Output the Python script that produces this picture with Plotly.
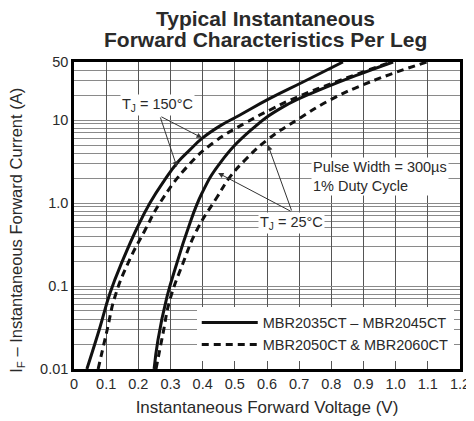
import plotly.graph_objects as go
import numpy as np

# ---- data ----
# MBR2035CT - MBR2045CT (solid), TJ = 150 C
v_a150 = [0.040, 0.081, 0.112, 0.152, 0.196, 0.236, 0.280, 0.323, 0.361, 0.398, 0.454, 0.516, 0.609, 0.712, 0.836]
i_a150 = [0.01, 0.0321, 0.0824, 0.206, 0.50, 1.0, 1.85, 3.12, 4.4, 6.0, 8.5, 11.5, 18.2, 28.7, 50.0]
# MBR2050CT & MBR2060CT (dashed), TJ = 150 C
v_b150 = [0.075, 0.103, 0.127, 0.168, 0.221, 0.267, 0.351, 0.432, 0.538, 0.609, 0.687, 0.889, 0.988]
i_b150 = [0.01, 0.0295, 0.0738, 0.189, 0.473, 1.0, 2.72, 5.28, 9.46, 13.2, 18.4, 36.8, 50.0]
# MBR2035CT - MBR2045CT (solid), TJ = 25 C
v_a25 = [0.249, 0.261, 0.289, 0.320, 0.351, 0.398, 0.454, 0.547, 0.650, 0.786, 0.889, 0.992]
i_a25 = [0.01, 0.0224, 0.0738, 0.189, 0.448, 1.32, 3.03, 7.38, 14.4, 25.0, 35.8, 50.0]
# MBR2050CT & MBR2060CT (dashed), TJ = 25 C
v_b25 = [0.255, 0.277, 0.298, 0.339, 0.382, 0.445, 0.485, 0.538, 0.600, 0.703, 0.796, 0.920, 1.097]
i_b25 = [0.01, 0.0272, 0.0679, 0.189, 0.473, 1.18, 2.06, 3.48, 5.74, 10.6, 17.4, 28.7, 50.0]

x_ticks = [0, 0.1, 0.2, 0.3, 0.4, 0.5, 0.6, 0.7, 0.8, 0.9, 1.0, 1.1, 1.2]
x_ticktext = ["0", "0.1", "0.2", "0.3", "0.4", "0.5", "0.6", "0.7", "0.8", "0.9", "1.0", "1.1", "1.2"]
y_ticks = [0.01, 0.1, 1.0, 10, 50]
y_ticktext = ["0.01", "0.1", "1.0", "10", "50"]
y_minor = [m * d for d in [0.01, 0.1, 1.0] for m in range(2, 10)] + [20, 30, 40]

label_a = "MBR2035CT – MBR2045CT"
label_b = "MBR2050CT & MBR2060CT"
title_lines = ["Typical Instantaneous", "Forward Characteristics Per Leg"]
x_title = "Instantaneous Forward Voltage (V)"
y_title = "I<sub>F</sub> – Instantaneous Forward Current (A)"

FONT = "Arial, Liberation Sans, sans-serif"
TXT = "#2a2a2a"
LINE = "#111111"

fig = go.Figure()
solid = dict(color=LINE, width=3, shape="spline", smoothing=1.3)
dashed = dict(color=LINE, width=3, dash="7px,5px", shape="spline", smoothing=1.3)
fig.add_trace(go.Scatter(x=v_a150, y=i_a150, mode="lines", line=solid, name=label_a, showlegend=True))
fig.add_trace(go.Scatter(x=v_b150, y=i_b150, mode="lines", line=dashed, name=label_b, showlegend=True))
fig.add_trace(go.Scatter(x=v_a25, y=i_a25, mode="lines", line=solid, name=label_a, showlegend=False))
fig.add_trace(go.Scatter(x=v_b25, y=i_b25, mode="lines", line=dashed, name=label_b, showlegend=False))

lg = np.log10
annos = []
# title (two lines)
annos.append(dict(x=0.496, y=1.143, xref="paper", yref="paper", text="<b>%s</b>" % title_lines[0],
                  showarrow=False, yanchor="middle", font=dict(family=FONT, size=21, color=TXT)))
annos.append(dict(x=0.496, y=1.072, xref="paper", yref="paper", text="<b>%s</b>" % title_lines[1],
                  showarrow=False, yanchor="middle", font=dict(family=FONT, size=21, color=TXT)))
# y-axis title (rotated)
annos.append(dict(x=-0.148, y=0.453, xref="paper", yref="paper", text=y_title, textangle=-90,
                  showarrow=False, xanchor="center", yanchor="middle",
                  font=dict(family=FONT, size=16.5, color=TXT)))
# labels
annos.append(dict(x=0.261, y=1.181, xref="x", yref="y", text="T<sub>J</sub> = 150°C",
                  showarrow=False, bgcolor="white", font=dict(family=FONT, size=14.5, color=TXT)))
annos.append(dict(x=0.675, y=-0.241, xref="x", yref="y", text="T<sub>J</sub> = 25°C",
                  showarrow=False, bgcolor="white", font=dict(family=FONT, size=14.5, color=TXT)))
annos.append(dict(x=0.738, y=0.319, xref="x", yref="y", xanchor="left", align="left",
                  text="Pulse Width = 300µs<br>1% Duty Cycle",
                  showarrow=False, bgcolor="white", font=dict(family=FONT, size=14.5, color=TXT)))
# arrows (tip, tail)
arrows = [((0.398, 0.785), (0.267, 1.048)),
          ((0.320, 0.434), (0.267, 1.048)),
          ((0.603, 0.699), (0.678, -0.108)),
          ((0.448, 0.362), (0.678, -0.108))]
for (tx, ty), (sx, sy) in arrows:
    annos.append(dict(x=tx, y=ty, ax=sx, ay=sy, xref="x", yref="y", axref="x", ayref="y",
                      text="", showarrow=True, arrowhead=2, arrowsize=1.1, arrowwidth=1,
                      arrowcolor="#333"))

# page body has an 8px margin: figure sized so it fills the window exactly
fig.update_layout(
    width=466, height=413,
    margin=dict(l=66, r=14, t=54, b=52),
    paper_bgcolor="white", plot_bgcolor="white",
    font=dict(family=FONT, color=TXT, size=14),
    annotations=annos,
    legend=dict(x=0.318, y=0.203, xanchor="left", yanchor="top", bgcolor="white",
                itemwidth=56, font=dict(family=FONT, size=14.5, color=TXT),
                tracegroupgap=0),
)
fig.update_xaxes(range=[0, 1.2], tickvals=x_ticks, ticktext=x_ticktext,
                 showgrid=True, gridcolor="#555", gridwidth=1, zeroline=False,
                 showline=True, mirror=True, linecolor="black", linewidth=2.5,
                 ticks="", tickfont=dict(family=FONT, size=14.5, color=TXT), automargin=False,
                 title=dict(text=x_title, standoff=10,
                            font=dict(family=FONT, size=17, color=TXT)))
fig.update_yaxes(type="log", range=[lg(0.01), lg(50)], tickvals=y_ticks, ticktext=y_ticktext,
                 showgrid=True, gridcolor="#8a8a8a", gridwidth=1, zeroline=False,
                 showline=True, mirror=True, linecolor="black", linewidth=2.5,
                 ticks="", tickfont=dict(family=FONT, size=14.5, color=TXT), automargin=False,
                 minor=dict(tickvals=y_minor, showgrid=True, gridcolor="#8a8a8a", gridwidth=1, ticks=""))

fig.write_html("out.html")
